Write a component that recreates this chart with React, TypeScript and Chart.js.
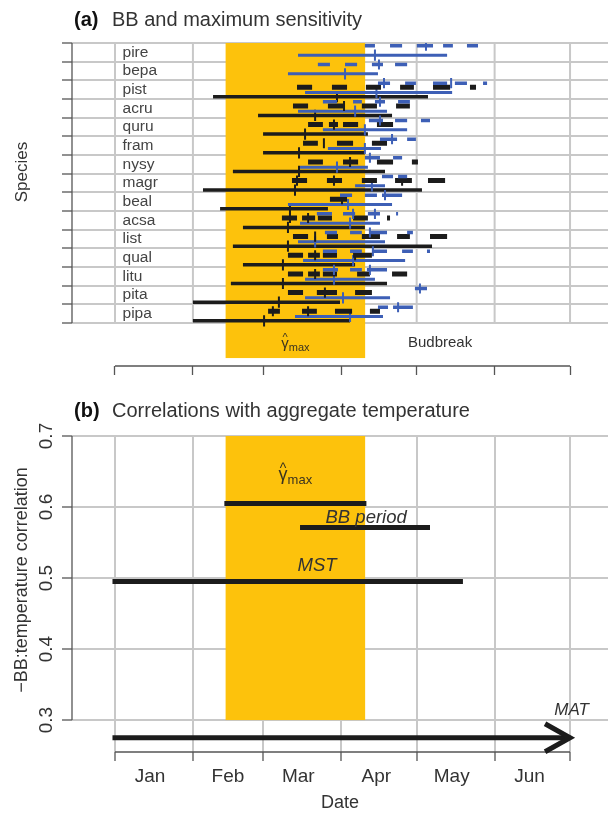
import React, { useEffect, useRef } from 'react';
import { Chart, registerables } from 'chart.js';

Chart.register(...registerables);

const FONT = '"Liberation Sans", Arial, Helvetica, sans-serif';
const YELLOW = '#fdc20c';
const GRID = '#c8c8c8';
const AXIS = '#555555';
const BLACK = '#1c1c1c';
const BLUE = '#3d5fb6';
const TEXT = '#333333';

// ---------- shared axis data (day of year) ----------
const monthStarts = [1, 32, 60, 91, 121, 152, 182];
const monthLabels = ['Jan', 'Feb', 'Mar', 'Apr', 'May', 'Jun', ''];
const sensitivityWindow = [45, 100.5];

// ---------- panel (a) ----------
const species = ['pire', 'bepa', 'pist', 'acru', 'quru', 'fram', 'nysy', 'magr', 'beal', 'acsa', 'list', 'qual', 'litu', 'pita', 'pipa'];

// [start, end, median] of the maximum-sensitivity window (black) per species
const blackLong: (number[] | null)[] = [
  null, null,
  [40.0, 125.5, 89.3], [57.9, 111.2, 80.6], [59.9, 101.6, 76.6], [59.9, 100.4, 74.2],
  [47.9, 108.4, 74.2], [36.0, 123.1, 72.6], [42.8, 85.7, 70.6], [51.9, 100.4, 69.8],
  [47.9, 127.1, 69.8], [51.9, 96.5, 67.8], [47.1, 109.2, 67.8], [32.0, 90.5, 66.2], [32.0, 94.5, 60.3],
];
const blueLong: number[][] = [
  [73.8, 133.1, 104.4], [69.8, 105.6, 92.5], [76.6, 135.1, 105.0], [73.8, 109.2, 96.5],
  [83.7, 117.2, 100.4], [85.7, 106.8, 100.4], [74.6, 101.6, 89.3], [96.5, 108.4, 103.2],
  [69.8, 111.2, 93.7], [74.6, 106.4, 94.5], [73.8, 108.4, 80.6], [75.8, 116.4, 95.7],
  [76.6, 104.4, 88.1], [76.6, 110.4, 91.7], [72.6, 107.6, 94.5],
];
const blackDashes: number[][][] = [
  [], [],
  [[73.4, 79.4], [87.3, 93.3], [100.8, 106.8], [114.4, 119.9], [127.5, 134.3], [142.2, 144.6]],
  [[71.8, 77.8], [85.7, 91.7], [99.2, 105.2], [112.8, 118.3]],
  [[77.8, 83.7], [86.1, 89.7], [91.7, 97.7], [105.2, 111.6]],
  [[75.8, 81.7], [89.3, 95.7], [103.2, 109.2]],
  [[77.8, 83.7], [91.7, 97.7], [105.2, 111.6], [119.1, 121.5]],
  [[71.4, 77.4], [85.3, 91.3], [99.2, 105.2], [112.4, 119.1], [125.5, 132.3]],
  [[86.5, 93.3]],
  [[67.4, 73.4], [75.4, 80.6], [81.7, 87.3], [95.7, 101.6], [109.2, 110.4]],
  [[71.8, 77.8], [85.3, 89.7], [99.2, 106.4], [113.2, 118.3], [126.3, 133.1]],
  [[69.8, 75.8], [77.8, 82.5], [83.7, 89.3], [95.7, 103.2]],
  [[69.8, 75.8], [77.8, 82.5], [83.7, 89.3], [97.3, 102.4], [111.2, 117.2]],
  [[69.8, 75.8], [81.3, 89.3], [96.5, 103.2]],
  [[61.9, 66.6], [75.4, 81.3], [88.5, 95.3], [102.4, 106.4]],
];
const blackPlus: number[][] = [
  [], [], [], [92.1], [88.1], [84.1], [94.5], [73.4, 88.1, 115.2], [91.3], [70.6, 77.8], [80.6], [80.6, 96.5], [80.6], [84.5], [63.8, 77.8],
];
const blueDashes: number[][][] = [
  [[100.4, 104.4], [110.4, 115.2], [121.1, 127.5], [131.5, 135.4], [141.0, 145.4]],
  [[81.7, 86.5], [92.5, 97.3], [103.2, 107.6], [112.4, 117.2]],
  [[105.6, 110.4], [116.4, 120.7], [127.5, 133.1], [136.2, 141.0], [147.4, 149.0]],
  [[83.7, 89.3], [95.7, 99.2], [104.4, 108.4], [113.6, 118.3]],
  [[102.0, 107.6], [112.4, 117.2], [122.7, 126.3]],
  [[106.4, 113.2], [117.2, 120.7]],
  [[100.4, 106.4], [111.6, 115.2]],
  [[107.2, 111.6], [113.6, 117.2]],
  [[90.5, 95.3], [100.4, 105.2], [107.2, 115.2]],
  [[81.3, 87.3], [91.7, 96.5], [101.6, 106.4], [112.8, 113.6]],
  [[84.5, 89.3], [94.5, 99.2], [102.4, 109.2], [117.2, 119.5]],
  [[83.7, 89.3], [94.5, 99.2], [103.2, 109.2], [115.2, 119.5], [125.1, 126.3]],
  [[83.7, 89.7], [94.5, 99.2], [101.2, 109.2]],
  [[120.3, 125.1]],
  [[105.6, 109.6], [111.6, 119.5]],
];
const bluePlus: number[][] = [
  [124.7], [106.0], [108.0, 134.7], [106.4], [106.4], [111.2], [102.4], [], [108.4], [95.7, 104.4], [102.4], [103.6], [88.1, 102.4], [122.3], [113.6],
];

// ---------- panel (b) ----------
const corrTicks = [0.3, 0.4, 0.5, 0.6, 0.7];
const gammaMaxSpan = [44.5, 101];
const gammaMaxCorr = 0.605;
const bbPeriodSpan = [74.6, 126.3];
const bbPeriodCorr = 0.571;
const mstSpan = [0, 139.4];
const mstCorr = 0.495;
const matSpan = [0, 182];
const matCorr = 0.275;

// ---------- layout constants ----------
const X_MIN = -16.1;
const X_MAX = 197.1;
const ROW_MAX = 17.3;
const OFF_BLUE_DASH = 0.15;
const OFF_BLACK_DASH = 0.37;
const OFF_BLUE_LONG = 0.65;
const OFF_BLACK_LONG = 0.88;
const TICK_HALF = 0.3;
const PLUS_HALF = 0.27;

type Pt = { x: number; y: number | null };
const hseg = (x0: number, x1: number, y: number): Pt[] => [{ x: x0, y }, { x: x1, y }, { x: x1, y: null }];
const vseg = (x: number, yc: number, h: number): Pt[] => [{ x, y: yc - h }, { x, y: yc + h }, { x, y: null }];

const lineDs = (data: Pt[], color: string, width: number, order: number) => ({
  data,
  borderColor: color,
  borderWidth: width,
  pointRadius: 0,
  pointHoverRadius: 0,
  spanGaps: false,
  fill: false,
  tension: 0,
  borderCapStyle: 'butt',
  order,
});

function text(ctx: CanvasRenderingContext2D, s: string, x: number, y: number, font: string, color: string, align: CanvasTextAlign = 'center', baseline: CanvasTextBaseline = 'middle', rot = 0) {
  ctx.save();
  ctx.translate(x, y);
  if (rot) ctx.rotate(rot);
  ctx.font = font;
  ctx.fillStyle = color;
  ctx.textAlign = align;
  ctx.textBaseline = baseline;
  ctx.fillText(s, 0, 0);
  ctx.restore();
}

function drawGammaHat(ctx: CanvasRenderingContext2D, cx: number, cy: number, g: number, sub: number, color: string) {
  ctx.save();
  ctx.fillStyle = color;
  ctx.font = `${g}px ${FONT}`;
  const wg = ctx.measureText('γ').width;
  ctx.font = `${sub}px ${FONT}`;
  const ws = ctx.measureText('max').width;
  const x0 = cx - (wg + ws) / 2;
  const base = cy + g * 0.3;
  ctx.textBaseline = 'alphabetic';
  ctx.textAlign = 'left';
  ctx.font = `${g}px ${FONT}`;
  ctx.fillText('γ', x0, base);
  ctx.textAlign = 'center';
  ctx.font = `${Math.round(g * 0.75)}px ${FONT}`;
  ctx.fillText('^', x0 + wg / 2, base - g * 0.42);
  ctx.textAlign = 'left';
  ctx.font = `${sub}px ${FONT}`;
  ctx.fillText('max', x0 + wg, base + sub * 0.3);
  ctx.restore();
}

function drawPanelTitle(ctx: CanvasRenderingContext2D, tag: string, title: string, baseline: number) {
  ctx.save();
  ctx.textBaseline = 'alphabetic';
  ctx.textAlign = 'left';
  ctx.fillStyle = '#111';
  ctx.font = `bold 20px ${FONT}`;
  ctx.fillText(tag, 74, baseline);
  ctx.fillStyle = TEXT;
  ctx.font = `20px ${FONT}`;
  ctx.fillText(title, 112, baseline);
  ctx.restore();
}

function line(ctx: CanvasRenderingContext2D, x0: number, y0: number, x1: number, y1: number) {
  ctx.beginPath();
  ctx.moveTo(x0, y0);
  ctx.lineTo(x1, y1);
  ctx.stroke();
}

const panelAPlugin = {
  id: 'panelA',
  beforeDatasetsDraw(chart: any) {
    const { ctx, chartArea, scales } = chart;
    const x = scales.x, y = scales.y;
    const top = y.getPixelForValue(0);
    const bot = y.getPixelForValue(species.length);
    ctx.save();
    ctx.strokeStyle = GRID;
    ctx.lineWidth = 2;
    for (const m of monthStarts) {
      const px = x.getPixelForValue(m);
      line(ctx, px, top, px, bot);
    }
    const x0 = x.getPixelForValue(sensitivityWindow[0]);
    const x1 = x.getPixelForValue(sensitivityWindow[1]);
    ctx.fillStyle = YELLOW;
    ctx.fillRect(x0, top, x1 - x0, bot + 35 - top);
    ctx.strokeStyle = AXIS;
    ctx.lineWidth = 1.3;
    line(ctx, chartArea.left, top, chartArea.left, bot);
    line(ctx, x.getPixelForValue(monthStarts[0]), chartArea.bottom, x.getPixelForValue(monthStarts[monthStarts.length - 1]), chartArea.bottom);
    ctx.restore();
  },
  afterDraw(chart: any) {
    const { ctx, scales } = chart;
    const x = scales.x, y = scales.y;
    drawPanelTitle(ctx, '(a)', 'BB and maximum sensitivity', 26);
    species.forEach((s, k) => {
      text(ctx, s, x.getPixelForValue(4), y.getPixelForValue(k + 0.5), `15.5px ${FONT}`, '#444', 'left', 'middle');
    });
    text(ctx, 'Species', 22, 172, `17px ${FONT}`, TEXT, 'center', 'middle', -Math.PI / 2);
    const labelRow = 16.07;
    drawGammaHat(ctx, x.getPixelForValue((sensitivityWindow[0] + sensitivityWindow[1]) / 2), y.getPixelForValue(labelRow), 15, 11, '#3a3320');
    text(ctx, 'Budbreak', x.getPixelForValue(130.3), y.getPixelForValue(labelRow), `15px ${FONT}`, TEXT);
  },
};

const panelBPlugin = {
  id: 'panelB',
  beforeDatasetsDraw(chart: any) {
    const { ctx, chartArea, scales } = chart;
    const x = scales.x, y = scales.y;
    const x0 = x.getPixelForValue(sensitivityWindow[0]);
    const x1 = x.getPixelForValue(sensitivityWindow[1]);
    const yTop = y.getPixelForValue(corrTicks[corrTicks.length - 1]);
    const yBot = y.getPixelForValue(corrTicks[0]);
    ctx.save();
    ctx.fillStyle = YELLOW;
    ctx.fillRect(x0, yTop, x1 - x0, yBot - yTop);
    ctx.strokeStyle = AXIS;
    ctx.lineWidth = 1.3;
    line(ctx, chartArea.left, yTop, chartArea.left, yBot);
    line(ctx, x.getPixelForValue(monthStarts[0]), chartArea.bottom, x.getPixelForValue(monthStarts[monthStarts.length - 1]), chartArea.bottom);
    ctx.restore();
  },
  afterDatasetsDraw(chart: any) {
    const { ctx } = chart;
    const meta = chart.getDatasetMeta(3);
    const tip = meta.data[1];
    if (!tip) return;
    ctx.save();
    ctx.strokeStyle = BLACK;
    ctx.lineWidth = 5;
    ctx.lineJoin = 'miter';
    ctx.lineCap = 'butt';
    ctx.beginPath();
    ctx.moveTo(tip.x - 25, tip.y - 14);
    ctx.lineTo(tip.x, tip.y);
    ctx.lineTo(tip.x - 25, tip.y + 14);
    ctx.stroke();
    ctx.restore();
  },
  afterDraw(chart: any) {
    const { ctx, scales } = chart;
    const x = scales.x, y = scales.y;
    drawPanelTitle(ctx, '(b)', 'Correlations with aggregate temperature', 27);
    text(ctx, '\u2212BB:temperature correlation', 22, 190, `18px ${FONT}`, TEXT, 'center', 'middle', -Math.PI / 2);
    drawGammaHat(ctx, x.getPixelForValue((sensitivityWindow[0] + sensitivityWindow[1]) / 2), y.getPixelForValue(0.645), 18, 13, '#3a3320');
    text(ctx, 'BB period', x.getPixelForValue(100.9), y.getPixelForValue(0.5845), `italic 18.5px ${FONT}`, TEXT);
    text(ctx, 'MST', x.getPixelForValue(81.4), y.getPixelForValue(0.517), `italic 18.5px ${FONT}`, TEXT);
    text(ctx, 'MAT', x.getPixelForValue(182.6), y.getPixelForValue(0.314), `italic 17px ${FONT}`, TEXT);
  },
};

function buildA(): any {
  const bl: Pt[] = [], blT: Pt[] = [], ul: Pt[] = [], ulT: Pt[] = [];
  const bd: Pt[] = [], bdP: Pt[] = [], ud: Pt[] = [], udP: Pt[] = [];
  species.forEach((_, k) => {
    const b = blackLong[k];
    if (b) {
      bl.push(...hseg(b[0], b[1], k + OFF_BLACK_LONG));
      blT.push(...vseg(b[2], k + OFF_BLACK_LONG, TICK_HALF));
    }
    const u = blueLong[k];
    ul.push(...hseg(u[0], u[1], k + OFF_BLUE_LONG));
    ulT.push(...vseg(u[2], k + OFF_BLUE_LONG, TICK_HALF));
    blackDashes[k].forEach(([s, e]) => bd.push(...hseg(s, e, k + OFF_BLACK_DASH)));
    blackPlus[k].forEach((p) => bdP.push(...vseg(p, k + OFF_BLACK_DASH, PLUS_HALF)));
    blueDashes[k].forEach(([s, e]) => ud.push(...hseg(s, e, k + OFF_BLUE_DASH)));
    bluePlus[k].forEach((p) => udP.push(...vseg(p, k + OFF_BLUE_DASH, PLUS_HALF)));
  });
  return {
    type: 'line',
    data: {
      datasets: [
        lineDs(bl, BLACK, 3.5, 8),
        lineDs(blT, BLACK, 2, 8),
        lineDs(ul, BLUE, 3, 7),
        lineDs(ulT, BLUE, 2, 7),
        lineDs(bd, BLACK, 5, 6),
        lineDs(bdP, BLACK, 2, 6),
        lineDs(ud, BLUE, 3.5, 5),
        lineDs(udP, BLUE, 2, 5),
      ],
    },
    options: {
      responsive: false,
      animation: false,
      events: [],
      layout: { padding: { left: 8, top: 43, right: 0, bottom: 0 } },
      plugins: { legend: { display: false }, tooltip: { enabled: false }, title: { display: false } },
      scales: {
        x: {
          type: 'linear',
          min: X_MIN,
          max: X_MAX,
          afterBuildTicks: (s: any) => { s.ticks = monthStarts.map((value) => ({ value })); },
          afterFit: (s: any) => { s.height = 24; },
          grid: { drawOnChartArea: false, drawTicks: true, tickLength: 9, tickColor: AXIS, tickWidth: 1.3 },
          border: { display: false },
          ticks: { display: false },
        },
        y: {
          type: 'linear',
          reverse: true,
          min: 0,
          max: ROW_MAX,
          afterBuildTicks: (s: any) => { s.ticks = species.map((_, i) => ({ value: i })).concat([{ value: species.length }]); },
          afterFit: (s: any) => { s.width = 64; },
          grid: { color: GRID, lineWidth: 2, drawTicks: true, tickLength: 10, tickColor: AXIS, tickWidth: 1.3 },
          border: { display: false },
          ticks: { display: false },
        },
      },
    },
    plugins: [panelAPlugin],
  };
}

function buildB(): any {
  return {
    type: 'line',
    data: {
      datasets: [
        lineDs(hseg(gammaMaxSpan[0], gammaMaxSpan[1], gammaMaxCorr), BLACK, 5, 1),
        lineDs(hseg(bbPeriodSpan[0], bbPeriodSpan[1], bbPeriodCorr), BLACK, 5, 1),
        lineDs(hseg(mstSpan[0], mstSpan[1], mstCorr), BLACK, 5, 1),
        lineDs(hseg(matSpan[0], matSpan[1], matCorr), BLACK, 5, 1),
      ],
    },
    options: {
      responsive: false,
      animation: false,
      events: [],
      layout: { padding: { left: 0, top: 46, right: 0, bottom: 0 } },
      plugins: { legend: { display: false }, tooltip: { enabled: false }, title: { display: false } },
      scales: {
        x: {
          type: 'linear',
          min: X_MIN,
          max: X_MAX,
          afterBuildTicks: (s: any) => { s.ticks = monthStarts.map((value) => ({ value })); },
          afterFit: (s: any) => { s.height = 64; },
          grid: { color: GRID, lineWidth: 2, drawTicks: true, tickLength: 9, tickColor: AXIS, tickWidth: 1.3 },
          border: { display: false },
          ticks: {
            font: { family: FONT, size: 19 },
            color: TEXT,
            labelOffset: 35,
            padding: 4,
            maxRotation: 0,
            minRotation: 0,
            autoSkip: false,
            callback: (_v: any, i: number) => monthLabels[i],
          },
          title: { display: true, text: 'Date', font: { family: FONT, size: 18 }, color: TEXT, padding: { top: 0, bottom: 2 } },
        },
        y: {
          type: 'linear',
          min: 0.255,
          max: 0.7,
          afterBuildTicks: (s: any) => { s.ticks = corrTicks.map((value) => ({ value })); },
          afterFit: (s: any) => { s.width = 72; },
          grid: { color: GRID, lineWidth: 2, drawTicks: true, tickLength: 10, tickColor: AXIS, tickWidth: 1.3 },
          border: { display: false },
          ticks: {
            font: { family: FONT, size: 19 },
            color: TEXT,
            minRotation: 90,
            maxRotation: 90,
            crossAlign: 'center',
            padding: 2,
            callback: (v: any) => Number(v).toFixed(1),
          },
        },
      },
    },
    plugins: [panelBPlugin],
  };
}

export default function App() {
  const refA = useRef<HTMLCanvasElement>(null);
  const refB = useRef<HTMLCanvasElement>(null);
  useEffect(() => {
    const a = new Chart(refA.current as HTMLCanvasElement, buildA());
    const b = new Chart(refB.current as HTMLCanvasElement, buildB());
    return () => {
      a.destroy();
      b.destroy();
    };
  }, []);
  return (
    <div style={{ position: 'absolute', left: 0, top: 0, width: 608, height: 816, background: '#ffffff' }}>
      <canvas ref={refA} width={608} height={390} style={{ position: 'absolute', left: 0, top: 0, width: 608, height: 390 }} />
      <canvas ref={refB} width={608} height={426} style={{ position: 'absolute', left: 0, top: 390, width: 608, height: 426 }} />
    </div>
  );
}
